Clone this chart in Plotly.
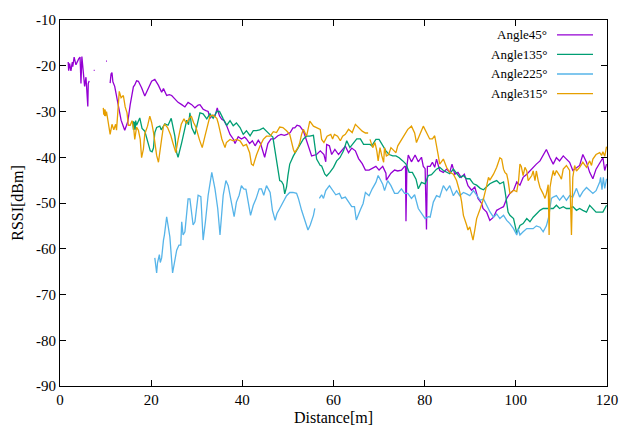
import plotly.graph_objects as go

# RSSI measured along the walking path for each antenna angle (None = no reading)
angle45_x = [
    1.8, 1.9, 2.1, 2.4, 2.6, 2.7, 2.8, 3.0, 3.1, 3.5,
    3.8, 4.1, 4.4, 4.6, 4.8, 5.1, 5.4, 5.7, 5.9, 6.1,
    6.2, 6.4, None, 7.4, 7.6, None, 10.1, 10.3, None, 11.0,
    11.2, 11.4, 11.6, 12.0, 12.3, 12.7, 13.0, 13.4, 13.8, 14.2,
    14.6, 14.9, 15.4, 16.1, 16.4, 16.8, 17.2, 17.9, 18.6, 19.4,
    20.1, 20.8, 21.6, 22.3, 22.7, 23.4, 24.0, 24.5, 25.2, 25.9,
    26.7, 27.4, 28.1, 28.9, 29.6, 30.3, 30.7, 31.4, 32.0, 32.5,
    32.9, 33.5, 34.0, 34.5, 34.7, 35.0, 35.5, 36.0, 36.6, 37.3,
    38.0, 38.4, 39.1, 39.8, 40.5, 40.9, 41.6, 42.2, 42.8, 43.5,
    44.0, 44.5, 44.9, 45.6, 46.3, 47.0, 47.8, 48.5, 49.2, 49.8,
    50.5, 51.1, 51.5, 52.0, 52.6, 53.4, 54.4, 55.2, 56.3, 57.1,
    57.9, 58.3, 58.5, 59.1, 59.6, 60.3, 61.1, 61.8, 62.6, 63.3,
    64.0, 64.8, 65.5, 66.3, 67.0, 67.8, 68.5, 69.3, 70.0, 70.8,
    71.5, 71.6, 72.6, 73.4, 74.1, 74.9, 75.6, 75.8, 75.9, 76.1,
    76.4, 77.1, 77.9, 78.6, 79.3, 79.7, 80.1, 80.3, 80.4, 80.6,
    81.2, 81.7, 82.2, 82.6, 83.3, 84.1, 84.8, 85.5, 86.0, 86.6,
    87.3, 88.0, 88.7, 89.5, 90.3, 91.0, 91.7, 92.5, 92.8, 93.6,
    94.3, 95.1, 95.8, 96.5, 97.3, 98.0, 98.7, 99.5, 100.2, 100.9,
    101.6, 102.4, 103.1, 103.8, 104.5, 105.3, 106.0, 106.7, 107.5, 108.2,
    108.9, 109.6, 110.4, 111.1, 111.8, 112.5, 113.3, 114.0, 114.7, 115.5,
    116.2, 116.9, 117.6, 118.4, 119.1, 119.5, 119.9,
]
angle45_y = [
    -19.2, -21.1, -19.5, -21.1, -19.8, -19.2, -20.2, -18.8, -18.1, -19.8,
    -19.0, -18.5, -18.1, -23.9, -18.0, -22.0, -24.5, -22.5, -26.0, -28.9,
    -23.9, -23.3, None, -21.0, -21.0, None, -19.0, -19.0, None, -23.8,
    -21.8, -21.5, -23.5, -24.5, -26.2, -28.5, -30.4, -31.9, -33.0, -34.1,
    -33.0, -32.1, -28.5, -24.6, -24.2, -23.3, -23.4, -24.8, -26.6, -24.8,
    -23.4, -23.0, -24.3, -25.8, -25.0, -26.5, -26.3, -26.5, -27.2, -28.0,
    -28.5, -29.0, -28.0, -28.5, -29.2, -28.6, -28.5, -29.5, -29.8, -30.0,
    -31.5, -30.8, -31.0, -29.2, -30.0, -31.0, -31.7, -32.0, -33.2, -35.0,
    -36.0, -37.0, -35.5, -36.0, -35.6, -36.0, -37.0, -36.4, -37.5, -36.3,
    -37.0, -38.5, -40.0, -37.0, -36.0, -36.0, -35.3, -35.0, -35.2, -35.0,
    -34.6, -33.6, -33.6, -33.0, -33.2, -34.3, -37.5, -39.7, -39.4, -38.6,
    -39.4, -41.0, -37.2, -37.5, -39.4, -38.3, -39.4, -38.6, -37.6, -39.0,
    -38.0, -38.6, -40.3, -41.4, -42.8, -42.8, -42.5, -42.0, -42.8, -42.0,
    -43.5, -45.0, -43.5, -42.8, -43.0, -42.8, -42.0, -42.0, -54.0, -42.0,
    -39.5, -41.0, -39.5, -41.0, -40.0, -42.0, -42.5, -55.8, -55.8, -42.0,
    -42.0, -41.1, -42.2, -40.4, -42.9, -43.3, -42.6, -43.3, -41.5, -43.7,
    -43.3, -44.4, -43.7, -46.2, -47.2, -46.5, -49.0, -50.1, -51.2, -52.0,
    -53.8, -53.1, -51.6, -51.2, -50.8, -49.0, -47.9, -47.2, -45.4, -46.1,
    -44.4, -43.7, -42.9, -42.2, -41.5, -40.8, -39.7, -38.3, -40.1, -41.5,
    -40.1, -40.8, -39.7, -40.4, -41.1, -42.9, -42.2, -41.8, -39.4, -41.1,
    -43.3, -44.7, -42.6, -41.1, -40.1, -42.9, -41.5,
]

angle135_x = [
    16.0, 16.1, 16.2, 16.3, 16.4, 16.5, 16.6, 16.8, 17.5, 18.0,
    18.6, 19.4, 19.8, 20.2, 20.5, 20.8, 21.2, 21.9, 22.2, 23.0,
    23.7, 24.4, 25.2, 25.6, 25.9, 26.7, 27.4, 27.8, 28.2, 28.5,
    28.9, 29.6, 30.3, 30.7, 31.4, 32.2, 32.9, 33.6, 34.4, 35.0,
    35.8, 36.6, 37.3, 38.0, 38.7, 39.5, 40.2, 40.9, 41.7, 42.4,
    43.1, 43.8, 44.6, 45.3, 46.0, 46.7, 47.1, 47.8, 48.2, 48.6,
    49.0, 49.3, 49.7, 50.0, 50.4, 51.2, 51.9, 52.6, 53.4, 54.1,
    54.8, 55.6, 55.9, 56.3, 57.1, 57.4, 58.1, 58.5, 59.2, 60.0,
    60.7, 61.4, 62.2, 62.9, 63.6, 64.4, 65.1, 65.9, 66.6, 67.3,
    68.0, 68.4, 69.3, 70.0, 70.8, 71.5, 72.2, 73.0, 73.7, 74.4,
    75.2, 75.9, 76.6, 77.3, 78.1, 78.6, 79.3, 80.1, 80.8, 81.5,
    82.6, 83.3, 84.1, 84.8, 85.5, 86.3, 87.0, 87.7, 88.5, 89.2,
    89.9, 90.7, 91.4, 92.2, 92.9, 93.6, 94.3, 95.1, 95.8, 96.5,
    97.3, 97.6, 98.0, 98.3, 98.7, 99.5, 100.2, 100.9, 101.6, 102.4,
    103.1, 103.8, 104.5, 105.3, 106.0, 106.7, 107.5, 108.2, 108.9, 109.6,
    110.4, 111.1, 111.8, 112.5, 113.3, 114.0, 114.7, 115.5, 116.2, 116.9,
    117.6, 118.4, 119.1, 119.9,
]
angle135_y = [
    -32.1, -34.0, -32.2, -34.0, -32.3, -34.0, -32.0, -33.0, -31.4, -33.7,
    -34.3, -37.5, -38.6, -38.8, -38.0, -34.6, -33.5, -33.2, -34.0, -32.7,
    -33.0, -31.5, -35.4, -39.0, -40.0, -36.8, -33.5, -31.9, -32.9, -30.3,
    -33.5, -35.0, -32.0, -30.3, -30.5, -31.6, -30.5, -31.5, -30.0, -30.0,
    -31.6, -33.0, -32.0, -33.1, -32.5, -33.5, -35.0, -34.2, -35.3, -34.2,
    -34.2, -34.0, -33.6, -34.4, -35.0, -35.6, -38.3, -42.6, -45.1, -45.3,
    -46.0, -48.0, -46.5, -44.0, -41.5, -39.7, -38.6, -37.5, -36.0, -35.4,
    -35.4, -35.2, -37.9, -40.4, -41.8, -41.9, -43.7, -44.1, -43.3, -42.2,
    -40.8, -40.1, -38.6, -36.4, -37.9, -36.8, -36.0, -36.0, -37.2, -37.2,
    -37.2, -37.5, -36.1, -36.1, -37.5, -38.6, -39.4, -39.7, -39.7, -40.1,
    -40.8, -41.5, -43.3, -43.3, -44.8, -46.9, -45.5, -45.8, -44.0, -43.8,
    -42.6, -42.2, -42.9, -43.3, -43.6, -42.6, -43.6, -44.4, -44.0, -44.7,
    -44.7, -45.8, -46.1, -46.8, -47.1, -46.5, -45.8, -45.4, -45.1, -45.8,
    -45.4, -47.2, -49.8, -52.0, -52.7, -53.4, -56.6, -54.9, -54.5, -53.4,
    -54.1, -53.1, -52.4, -51.6, -51.2, -51.2, -51.2, -51.2, -50.5, -51.2,
    -50.8, -51.2, -51.2, -50.8, -51.6, -51.2, -51.6, -52.0, -50.5, -51.2,
    -52.0, -52.0, -52.0, -50.5,
]

angle225_x = [
    20.8, 21.0, 21.2, 21.4, 21.6, 21.8, 22.0, 22.3, 22.7, 22.9,
    23.4, 23.7, 24.1, 24.7, 25.2, 25.6, 26.1, 26.5, 26.7, 27.0,
    27.4, 28.1, 28.5, 29.2, 29.6, 30.3, 30.9, 31.4, 31.9, 32.5,
    33.3, 34.0, 34.6, 35.1, 35.8, 36.4, 36.9, 37.4, 38.2, 38.7,
    39.3, 39.8, 40.3, 40.8, 41.8, 42.4, 43.0, 43.7, 44.2, 44.7,
    45.3, 46.1, 46.6, 47.2, 47.6, 48.2, 48.9, 49.7, 50.4, 51.1,
    51.9, 52.3, 53.0, 53.8, 54.4, 54.9, 55.6, 55.9, None, 56.9,
    57.4, 57.8, 58.3, 59.1, 59.8, 60.5, 61.3, 61.8, 62.6, 63.3,
    64.0, 64.6, 65.0, 65.9, 66.5, 67.0, 67.8, 68.5, 69.3, 69.8,
    70.8, 71.2, 71.9, 72.6, 73.4, 74.1, 74.9, 75.6, 76.3, 77.1,
    77.8, 78.6, 79.3, 80.1, 80.8, 81.2, 81.9, 82.6, 83.3, 84.1,
    84.8, 85.5, 86.3, 87.0, 87.7, 88.5, 89.2, 89.9, 90.7, 91.4,
    92.2, 92.9, 93.6, 94.3, 95.1, 95.8, 96.5, 97.3, 98.0, 98.7,
    99.5, 100.2, 100.5, 100.9, 101.6, 102.4, 103.1, 103.8, 104.5, 105.3,
    106.0, 106.7, 107.2, 107.8, 108.2, 108.9, 109.6, 110.4, 111.1, 111.8,
    112.5, 113.3, 114.0, 114.7, 115.5, 116.2, 116.9, 117.6, 118.4, 118.6,
    118.9, 119.2, 119.5, 119.9,
]
angle225_y = [
    -62.0, -64.5, -65.3, -63.0, -62.0, -61.3, -63.0, -62.0, -58.1, -57.0,
    -53.0, -55.0, -57.4, -65.3, -62.0, -60.3, -59.2, -59.2, -54.1, -57.0,
    -56.3, -49.1, -49.1, -54.8, -54.1, -48.3, -48.6, -58.1, -54.1, -48.3,
    -43.3, -46.9, -51.2, -57.0, -48.3, -45.1, -46.2, -49.0, -53.0, -49.8,
    -48.3, -46.2, -46.9, -47.0, -52.7, -50.5, -49.1, -46.9, -46.9, -48.3,
    -46.2, -47.7, -51.6, -53.8, -52.3, -51.2, -49.8, -48.4, -47.7, -47.7,
    -47.9, -49.0, -51.6, -53.8, -55.9, -54.8, -52.7, -51.2, None, -49.0,
    -48.2, -49.0, -47.3, -46.2, -47.3, -48.2, -47.9, -49.0, -48.7, -49.7,
    -50.8, -50.8, -53.7, -51.5, -50.1, -47.7, -48.4, -46.9, -45.5, -44.0,
    -45.9, -47.3, -45.1, -46.2, -47.9, -47.9, -46.9, -47.9, -47.9, -49.0,
    -48.2, -51.2, -52.3, -53.4, -53.0, -53.1, -49.8, -48.4, -48.7, -46.2,
    -47.3, -46.2, -48.4, -47.3, -48.4, -47.7, -48.0, -48.4, -47.3, -48.4,
    -49.4, -49.1, -50.5, -51.9, -53.1, -52.4, -53.4, -52.7, -53.8, -54.5,
    -55.6, -57.0, -55.6, -57.0, -56.3, -55.6, -55.6, -55.6, -55.0, -55.3,
    -56.3, -55.0, -53.1, -49.0, -48.7, -48.4, -49.4, -48.4, -49.4, -48.4,
    -48.7, -46.8, -48.7, -47.5, -46.6, -47.3, -47.9, -47.3, -45.4, -44.4,
    -47.1, -44.4, -46.8, -44.7,
]

angle315_x = [
    9.5, 9.6, 9.7, 9.8, 9.9, 10.0, 10.2, 10.5, 10.9, 11.0,
    11.4, 11.8, 12.2, 12.4, 12.6, 12.8, 13.0, 13.4, 13.9, 14.3,
    14.7, 15.0, 15.4, 15.8, 16.2, 16.4, 16.8, 17.2, 17.6, 17.9,
    18.3, 18.6, 19.2, 19.7, 20.1, 20.5, 20.8, 21.2, 21.6, 21.9,
    22.3, 22.7, 23.0, 23.6, 24.3, 24.8, 25.4, 25.9, 26.3, 26.6,
    27.2, 27.7, 28.3, 28.8, 29.3, 29.8, 30.6, 31.2, 31.8, 32.2,
    32.5, 32.9, 33.6, 34.4, 34.7, 35.1, 35.5, 36.2, 36.5, 37.3,
    38.0, 38.7, 39.5, 40.2, 40.9, 41.6, 42.0, 42.4, 43.1, 43.9,
    44.6, 45.3, 46.1, 46.8, 47.5, 48.2, 48.9, 49.7, 50.4, 51.2,
    51.5, 52.2, 52.6, 53.0, 53.4, 54.1, 54.8, 55.6, 56.3, 57.1,
    57.4, 57.9, 58.6, 59.4, 59.8, 60.2, 60.9, 61.5, 62.0, 62.6,
    63.3, 64.1, 64.8, 65.6, 66.3, 67.0, 67.6, None, 68.0, 68.6,
    69.1, 69.5, 69.8, 70.2, 70.6, 71.0, 71.2, 71.6, 72.1, 72.6,
    73.3, 73.7, 74.1, 74.9, 75.6, 76.3, 77.1, 77.8, 78.2, 78.9,
    79.7, 80.4, 81.1, 81.7, 82.2, 83.0, 83.3, 84.1, 84.8, 85.5,
    86.3, 87.0, 87.7, 88.1, 88.5, 89.2, 89.5, 89.9, 90.3, 90.6,
    91.0, 91.4, 92.2, 92.9, 93.6, 94.0, 94.3, 95.1, 95.8, 96.5,
    96.9, 97.3, 97.6, 98.0, 98.3, 98.7, 99.1, 99.5, 100.2, 100.6,
    100.9, 101.2, 101.6, 102.0, 102.4, 102.7, 103.5, 103.8, 104.2, 104.5,
    104.9, 105.3, 106.0, 106.4, 106.7, 107.1, 107.3, 107.5, 107.8, 108.2,
    108.5, 108.9, 109.6, 110.0, 110.4, 111.1, 111.8, 112.2, 112.5, 112.9,
    113.3, 114.0, 114.7, 115.5, 116.2, 116.6, 116.9, 117.6, 118.4, 118.8,
    119.1, 119.5, 119.9,
]
angle315_y = [
    -29.2, -30.7, -29.5, -31.0, -29.6, -31.0, -30.0, -31.8, -34.0, -35.0,
    -32.8, -34.0, -32.8, -34.1, -31.3, -27.1, -25.6, -27.0, -26.5, -29.0,
    -30.3, -33.0, -33.0, -32.0, -34.0, -36.1, -33.4, -34.1, -36.1, -40.1,
    -38.2, -34.9, -33.2, -31.0, -32.4, -34.5, -36.8, -39.6, -41.1, -38.5,
    -36.0, -33.2, -32.8, -33.5, -35.2, -37.0, -39.0, -36.2, -34.5, -32.8,
    -31.6, -32.6, -31.6, -31.0, -32.4, -33.4, -36.2, -37.9, -35.4, -33.6,
    -32.2, -31.0, -30.8, -31.5, -32.5, -34.6, -36.0, -37.9, -36.8, -36.1,
    -36.4, -36.1, -36.4, -37.5, -37.2, -39.0, -41.5, -41.8, -39.5, -37.5,
    -36.1, -35.4, -35.4, -34.4, -34.6, -33.4, -33.5, -34.2, -35.0, -38.3,
    -39.0, -37.9, -36.8, -35.0, -33.9, -35.4, -32.1, -33.2, -33.5, -33.9,
    -36.1, -36.8, -35.4, -35.0, -36.0, -35.0, -35.4, -36.4, -35.4, -35.0,
    -33.9, -34.6, -32.8, -33.6, -34.3, -34.7, -34.7, None, -36.1, -37.9,
    -36.8, -38.6, -40.8, -37.9, -39.7, -41.1, -37.9, -39.7, -39.4, -37.9,
    -38.6, -39.0, -37.5, -36.1, -35.0, -33.9, -33.2, -34.7, -36.8, -35.0,
    -33.2, -34.6, -36.0, -36.0, -35.3, -39.7, -41.5, -40.4, -42.2, -43.3,
    -43.7, -45.1, -47.6, -49.7, -52.7, -54.8, -55.9, -55.2, -56.6, -58.1,
    -55.9, -53.4, -51.2, -49.1, -46.2, -44.4, -45.0, -43.7, -42.2, -40.1,
    -40.4, -42.6, -43.3, -43.7, -45.1, -47.9, -47.6, -47.2, -47.5, -45.1,
    -41.5, -42.0, -44.0, -42.2, -43.0, -45.1, -44.0, -43.0, -45.1, -43.0,
    -45.1, -46.6, -48.0, -49.0, -48.0, -46.0, -57.0, -46.6, -44.8, -42.9,
    -44.0, -42.9, -44.0, -44.8, -42.6, -41.8, -42.9, -57.0, -44.4, -41.8,
    -43.0, -42.2, -41.1, -42.2, -40.8, -41.8, -40.4, -39.4, -39.0, -39.6,
    -38.8, -39.8, -37.7,
]

labels = ["Angle45°", "Angle135°", "Angle225°", "Angle315°"]
colors = ["#9400D3", "#009E73", "#56B4E9", "#E69F00"]
xs = [angle45_x, angle135_x, angle225_x, angle315_x]
ys = [angle45_y, angle135_y, angle225_y, angle315_y]
x_ticks = [0, 20, 40, 60, 80, 100, 120]
y_ticks = [-90, -80, -70, -60, -50, -40, -30, -20, -10]

FONT = "Liberation Serif"

fig = go.Figure()
for name, x, y, color in zip(labels, xs, ys, colors):
    assert len(x) == len(y), name
    fig.add_trace(go.Scatter(
        x=x, y=y, mode="lines", name=name, connectgaps=False,
        line=dict(color=color, width=1.3), showlegend=False,
    ))

# gnuplot-style key: right-aligned label with the sample line on its right
key_top = 0.9595
key_step = 0.0535
for i, (name, color) in enumerate(zip(labels, colors)):
    ky = key_top - i * key_step
    fig.add_annotation(
        x=0.894, y=ky, xref="paper", yref="paper", text=name,
        showarrow=False, xanchor="right", yanchor="middle",
        font=dict(family=FONT, size=13, color="#000000"),
    )
    fig.add_shape(
        type="line", xref="paper", yref="paper",
        x0=0.9086, x1=0.9744, y0=ky, y1=ky,
        line=dict(color=color, width=1.3),
    )

axis_common = dict(
    showgrid=False, zeroline=False, showline=True, linecolor="#000000",
    linewidth=1, mirror="allticks", ticks="inside", ticklen=6,
    tickcolor="#000000", tickwidth=1,
    tickfont=dict(family=FONT, size=15, color="#000000"),
)

fig.update_layout(
    width=634, height=435,
    margin=dict(l=60, r=27, t=16, b=49),
    paper_bgcolor="#ffffff", plot_bgcolor="#ffffff",
    xaxis=dict(range=[0, 120], tickvals=x_ticks,
               ticktext=[str(v) for v in x_ticks],
               title=dict(text="Distance[m]", standoff=4,
                          font=dict(family=FONT, size=16, color="#000000")),
               **axis_common),
    yaxis=dict(range=[-90, -10], tickvals=y_ticks,
               ticktext=["%d" % v for v in y_ticks],
               title=dict(text="RSSI[dBm]", standoff=8,
                          font=dict(family=FONT, size=16, color="#000000")),
               **axis_common),
)

fig.write_html("out.html")
